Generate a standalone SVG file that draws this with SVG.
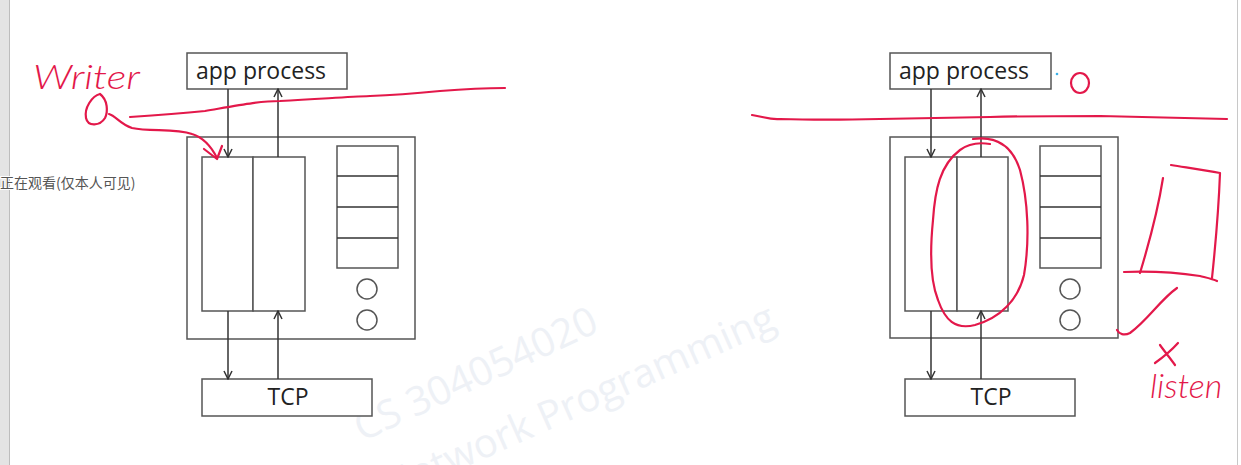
<svg xmlns="http://www.w3.org/2000/svg" width="1241" height="465" viewBox="0 0 1241 465">
<style>
.box{fill:#fff;stroke:#555;stroke-width:1.5}
.ln{fill:none;stroke:#333;stroke-width:1.5}
.lbl{font-family:"Open Sans","Noto Sans","Liberation Sans",sans-serif;font-size:23px;fill:#222}
.ink{fill:none;stroke:#e3184a;stroke-width:2.2;stroke-linecap:round;stroke-linejoin:round}
.hand{font-family:"Lato","Liberation Sans",sans-serif;font-style:italic;font-weight:300;font-size:34px;fill:#e3184a}
.wm{font-family:"Open Sans","Noto Sans",sans-serif;font-size:40px;fill:#eef1f6}
</style>
<defs>
<marker id="ah" viewBox="0 0 10 10" refX="9" refY="5" markerWidth="10" markerHeight="10" markerUnits="userSpaceOnUse" orient="auto">
<path d="M1,1 L9,5 L1,9" fill="none" stroke="#333" stroke-width="1.5"/>
</marker>
</defs>
<rect x="0" y="0" width="1241" height="465" fill="#fff"/>
<rect x="0" y="0" width="9" height="465" fill="#e4e4e4"/>
<line x1="9.5" y1="0" x2="9.5" y2="465" stroke="#bdbdbd"/>
<line x1="1237.5" y1="0" x2="1237.5" y2="465" stroke="#c8c8c8"/>

<g id="watermark">
<text class="wm" transform="translate(362,442) rotate(-25)">CS 304054020</text>
<text class="wm" text-anchor="end" transform="translate(778,328) rotate(-24)">Network Programming</text>
</g>

<g id="left-app"><rect class="box" x="187" y="53" width="160" height="36"/><text class="lbl" x="196" y="79">app process</text></g>
<g id="left-socket"><rect class="box" x="187" y="137" width="228" height="202"/></g>
<g id="left-sendbuf"><rect class="box" x="202" y="157" width="51" height="154"/></g>
<g id="left-recvbuf"><rect class="box" x="253" y="157" width="52" height="154"/></g>
<g id="left-queue"><rect class="box" x="337" y="146" width="61" height="122"/><line class="ln" x1="337" y1="176" x2="398" y2="176"/><line class="ln" x1="337" y1="207" x2="398" y2="207"/><line class="ln" x1="337" y1="238" x2="398" y2="238"/></g>
<g id="left-circles"><circle class="box" cx="367" cy="289" r="10"/><circle class="box" cx="367" cy="320" r="10"/></g>
<g id="left-tcp"><rect class="box" x="202" y="379" width="170" height="37"/><text class="lbl" x="288" y="405" text-anchor="middle">TCP</text></g>

<g id="right-app"><rect class="box" x="890" y="53" width="161" height="36"/><text class="lbl" x="899" y="79">app process</text></g>
<g id="right-socket"><rect class="box" x="890" y="137" width="228" height="201"/></g>
<g id="right-sendbuf"><rect class="box" x="905" y="157" width="52" height="154"/></g>
<g id="right-recvbuf"><rect class="box" x="957" y="157" width="51" height="154"/></g>
<g id="right-queue"><rect class="box" x="1040" y="146" width="61" height="122"/><line class="ln" x1="1040" y1="176" x2="1101" y2="176"/><line class="ln" x1="1040" y1="207" x2="1101" y2="207"/><line class="ln" x1="1040" y1="238" x2="1101" y2="238"/></g>
<g id="right-circles"><circle class="box" cx="1070" cy="289" r="10"/><circle class="box" cx="1070" cy="320" r="10"/></g>
<g id="right-tcp"><rect class="box" x="905" y="379" width="170" height="37"/><text class="lbl" x="991" y="405" text-anchor="middle">TCP</text></g>

<g id="connectors">
<line class="ln" x1="228" y1="89" x2="228" y2="157" marker-end="url(#ah)"/>
<line class="ln" x1="278" y1="157" x2="278" y2="89" marker-end="url(#ah)"/>
<line class="ln" x1="228" y1="311" x2="228" y2="379" marker-end="url(#ah)"/>
<line class="ln" x1="278" y1="379" x2="278" y2="311" marker-end="url(#ah)"/>
<line class="ln" x1="931" y1="89" x2="931" y2="157" marker-end="url(#ah)"/>
<line class="ln" x1="981" y1="157" x2="981" y2="89" marker-end="url(#ah)"/>
<line class="ln" x1="931" y1="311" x2="931" y2="379" marker-end="url(#ah)"/>
<line class="ln" x1="981" y1="379" x2="981" y2="311" marker-end="url(#ah)"/>
</g>

<g id="annotations">
<text class="hand" x="33" y="89" textLength="107" lengthAdjust="spacingAndGlyphs">Writer</text>
<path class="ink" d="M100,94 C92,96 84,108 86,118 C88,127 100,126 105,118 C108,112 108,100 100,94"/>
<path class="ink" d="M109,114 C116,116 120,124 132,128 C150,132 175,128 192,134 C205,138 212,148 217,158"/>
<path class="ink" d="M204,149 L217,159 L222,146"/>
<path class="ink" d="M130,117 C160,115 185,113 205,111 C240,105 260,101 280,101 C320,99 345,97 370,96 C400,95 420,93 440,91 C465,89 485,88 505,88"/>
<path class="ink" d="M752,115 C765,117 770,120 780,119 C810,120 840,120 880,119 C920,118 950,118 990,117 C1030,116 1060,116 1100,116 C1150,117 1190,118 1227,119"/>
<ellipse class="ink" cx="1080" cy="83" rx="9" ry="10"/>
<circle cx="1057" cy="74" r="1.3" fill="#3ab0e8"/>
<path class="ink" d="M973,139 C995,136 1012,145 1020,170 C1028,200 1030,240 1024,275 C1018,300 1000,318 975,325 C955,330 945,320 938,300 C930,280 930,250 933,220 C935,190 940,165 960,150 C968,144 978,142 990,144"/>
<path class="ink" d="M1171,165 C1190,168 1205,170 1220,173 C1219,200 1216,240 1212,278"/>
<path class="ink" d="M1163,178 C1158,210 1150,240 1140,273"/>
<path class="ink" d="M1124,272 C1150,271 1180,273 1200,276 C1208,278 1213,279 1217,281"/>
<path class="ink" d="M1177,288 C1160,300 1148,320 1130,333 C1124,336 1119,334 1117,330"/>
<path class="ink" d="M1160,345 C1165,352 1170,358 1175,365 M1178,343 C1170,352 1162,358 1155,363"/>
<text class="hand" x="1150" y="398" font-size="32">listen</text>
</g>

<g id="overlay">
<text x="0" y="188" font-family="'Noto Sans CJK SC',sans-serif" font-size="14" fill="#555" stroke="#fff" stroke-width="2" paint-order="stroke">正在观看(仅本人可见)</text>
</g>
</svg>
